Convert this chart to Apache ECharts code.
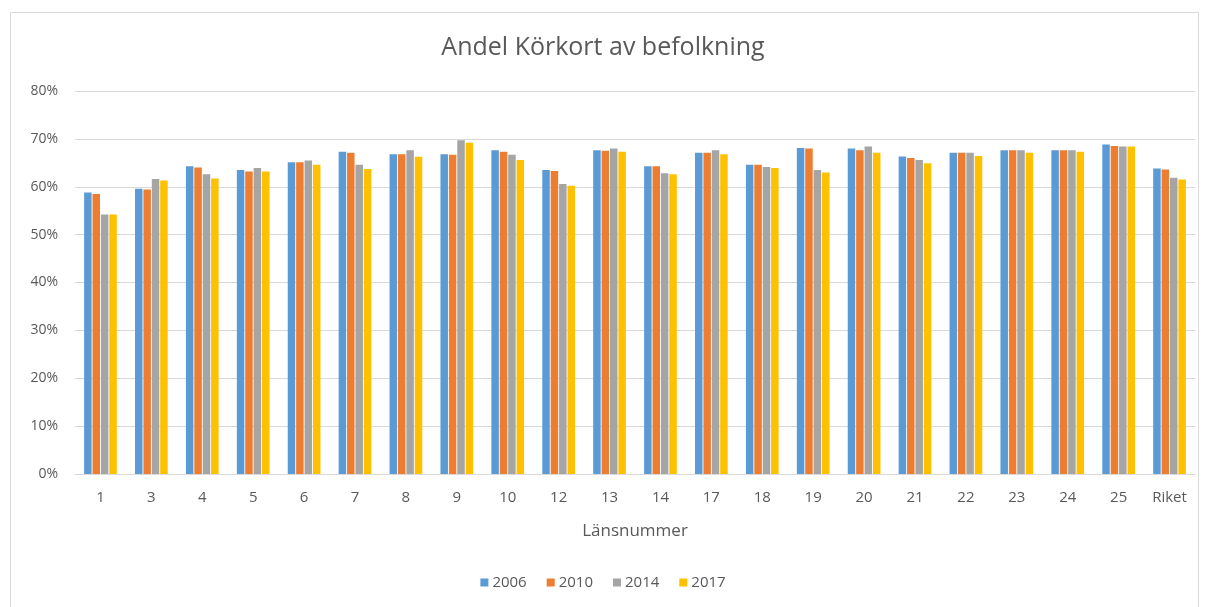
<!DOCTYPE html>
<html><head><meta charset="utf-8">
<script src="https://cdn.jsdelivr.net/npm/echarts@6/dist/echarts.min.js"></script>
<style>html,body{margin:0;padding:0;background:#fff}#c{width:1206px;height:607px}</style>
</head><body><div id="c"></div>
<script>
const categories = ['1','3','4','5','6','7','8','9','10','12','13','14','17','18','19','20','21','22','23','24','25','Riket'];
const years = ['2006','2010','2014','2017'];
const v2006 = [58.8,59.6,64.3,63.5,65.1,67.3,66.8,66.8,67.6,63.5,67.6,64.3,67.1,64.6,68.1,68.0,66.3,67.1,67.6,67.6,68.8,63.8];
const v2010 = [58.5,59.4,64.0,63.2,65.1,67.1,66.8,66.7,67.3,63.3,67.5,64.3,67.1,64.6,68.0,67.6,66.0,67.1,67.6,67.6,68.5,63.6];
const v2014 = [54.2,61.6,62.6,63.9,65.5,64.6,67.6,69.7,66.7,60.6,68.0,62.8,67.6,64.1,63.5,68.4,65.6,67.1,67.6,67.6,68.4,61.9];
const v2017 = [54.2,61.3,61.7,63.2,64.6,63.7,66.25,69.2,65.6,60.2,67.3,62.6,66.8,63.9,63.0,67.1,64.9,66.4,67.1,67.3,68.4,61.5];
const yTicks = [0,10,20,30,40,50,60,70,80];
const colors = ['#5B9BD5','#ED7D31','#A5A5A5','#FFC000'];
const allValues = [v2006,v2010,v2014,v2017];
const font = 'Open Sans';
const chart = echarts.init(document.getElementById('c'));
chart.setOption({
  animation:false,
  backgroundColor:'#fff',
  title:{text:'Andel Körkort av befolkning',left:'center',top:30,
    textStyle:{fontFamily:font,fontSize:25,fontWeight:'normal',color:'#595959'}},
  graphic:[{type:'rect',shape:{x:10.5,y:12.5,width:1188,height:600},style:{fill:'none',stroke:'#d9d9d9',lineWidth:1},silent:true}],
  legend:{data:years,bottom:12,left:'center',itemWidth:8,itemHeight:8,itemGap:20,icon:'rect',
    textStyle:{fontFamily:font,fontSize:15,color:'#595959',padding:[0,0,0,-1]}},
  grid:{left:75,right:11,top:91,bottom:133,containLabel:false},
  xAxis:{type:'category',data:categories,name:'Länsnummer',nameLocation:'middle',nameGap:49,
    nameTextStyle:{fontFamily:font,fontSize:17,color:'#595959'},
    axisLine:{lineStyle:{color:'#d9d9d9'}},axisTick:{show:false},
    axisLabel:{fontFamily:font,fontSize:15,color:'#595959',margin:16}},
  yAxis:{type:'value',min:0,max:80,interval:10,
    axisLabel:{fontFamily:font,fontSize:14,color:'#595959',margin:17,formatter:v=>yTicks.includes(v)?v+'%':''},
    splitLine:{lineStyle:{color:'#d9d9d9'}},axisLine:{show:false},axisTick:{show:false}},
  series: years.map((y,i)=>({name:y,type:'bar',data:allValues[i],barWidth:7.5,barGap:'12%',
    itemStyle:{color:colors[i]}}))
});
</script></body></html>
